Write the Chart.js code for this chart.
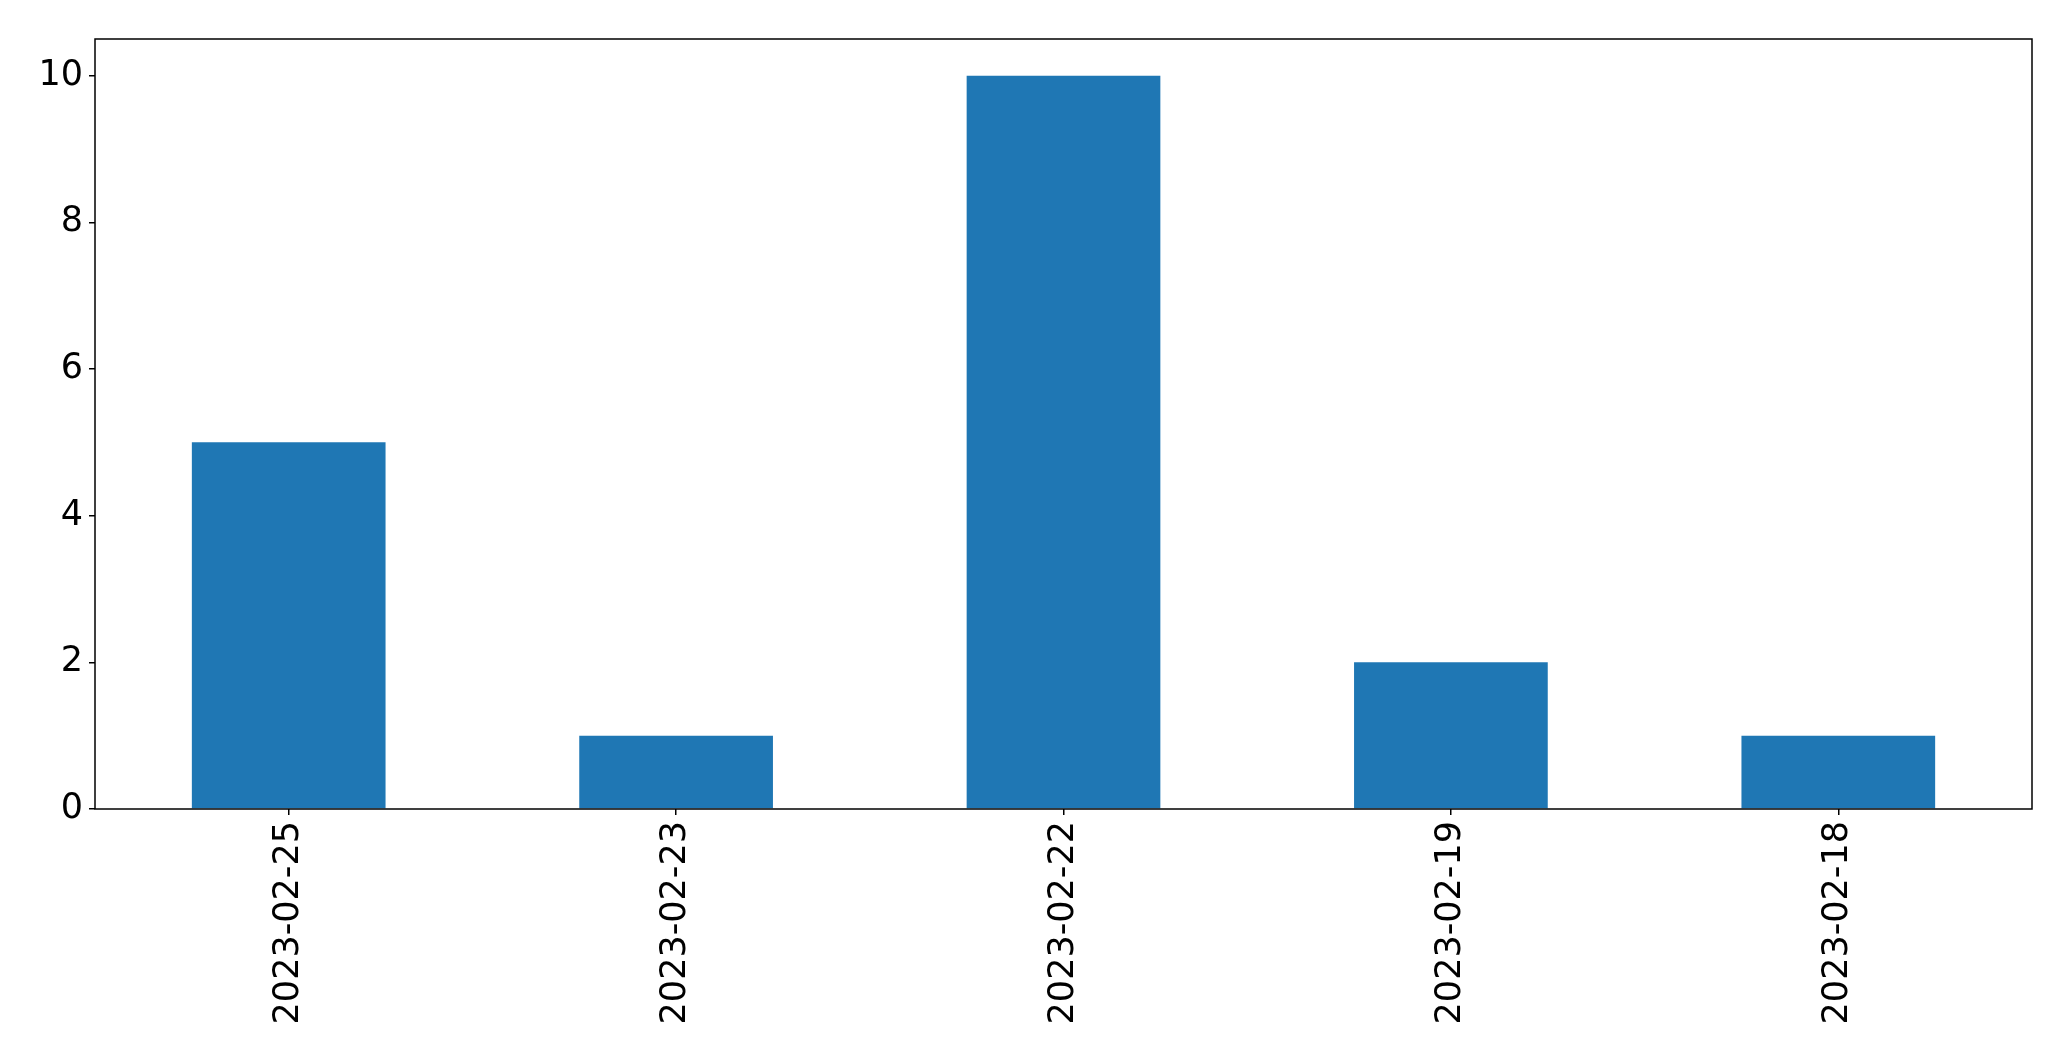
<!DOCTYPE html>
<html>
<head>
<meta charset="utf-8">
<script src="https://cdn.jsdelivr.net/npm/chart.js@4"></script>
<style>
    html, body { margin: 0; padding: 0; background: #ffffff; }
    #wrap { width: 2071px; height: 1061px; }
</style>
</head>
<body>
<div id="wrap"><canvas id="barChart" width="2071" height="1061"></canvas></div>
<script>
// Chart data
const dates = ['2023-02-25', '2023-02-23', '2023-02-22', '2023-02-19', '2023-02-18'];
const counts = [5, 1, 10, 2, 1];
const yTicks = [0, 2, 4, 6, 8, 10];

// Draw the black frame round the plot area
const frameBox = {
    id: 'frameBox',
    afterDraw(chart) {
        const { ctx, chartArea } = chart;
        ctx.save();
        ctx.strokeStyle = '#000000';
        ctx.lineWidth = 1.5;
        ctx.strokeRect(chartArea.left, chartArea.top,
            chartArea.right - chartArea.left, chartArea.bottom - chartArea.top);
        ctx.restore();
    }
};

Chart.defaults.font.family = '"DejaVu Sans", sans-serif';
Chart.defaults.font.size = 35;
Chart.defaults.color = '#000000';

const ctx = document.getElementById('barChart').getContext('2d');
new Chart(ctx, {
    type: 'bar',
    data: {
        labels: dates,
        datasets: [{
            data: counts,
            backgroundColor: '#1f77b4',
            borderWidth: 0,
            barPercentage: 0.5,
            categoryPercentage: 1.0
        }]
    },
    options: {
        responsive: false,
        animation: false,
        layout: {
            padding: { top: 39, right: 39, bottom: 0, left: 0 }
        },
        plugins: {
            legend: { display: false },
            tooltip: { enabled: false }
        },
        scales: {
            x: {
                grid: {
                    offset: false,
                    drawOnChartArea: false,
                    drawTicks: true,
                    tickLength: 6,
                    lineWidth: 1.5,
                    color: '#000000'
                },
                border: { display: false },
                ticks: {
                    minRotation: 90,
                    maxRotation: 90,
                    padding: 6,
                    font: { size: 35 }
                },
                afterFit(scale) { scale.height = 252; }
            },
            y: {
                min: 0,
                max: 10.5,
                grid: {
                    drawOnChartArea: false,
                    drawTicks: true,
                    tickLength: 6,
                    lineWidth: 1.5,
                    color: '#000000'
                },
                border: { display: false },
                ticks: {
                    padding: 6,
                    font: { size: 35 }
                },
                afterBuildTicks(scale) {
                    scale.ticks = yTicks.map(v => ({ value: v }));
                },
                afterFit(scale) { scale.width = 95; }
            }
        }
    },
    plugins: [frameBox]
});
</script>
</body>
</html>
